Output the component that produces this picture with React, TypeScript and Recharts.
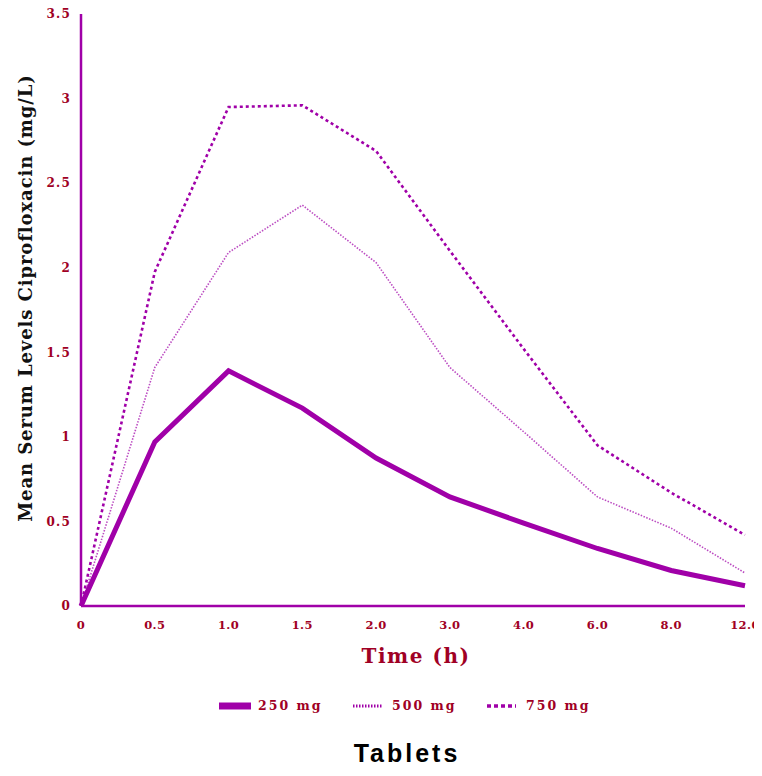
import React from 'react';
import { LineChart, Line, XAxis, YAxis, Legend } from 'recharts';

const timeLabels = ['0', '0.5', '1.0', '1.5', '2.0', '3.0', '4.0', '6.0', '8.0', '12.0'];
const mg250 = [0, 0.97, 1.39, 1.17, 0.875, 0.645, 0.49, 0.34, 0.21, 0.12];
const mg500 = [0, 1.41, 2.09, 2.37, 2.03, 1.41, 1.03, 0.645, 0.46, 0.195];
const mg750 = [0, 1.975, 2.95, 2.96, 2.69, 2.1, 1.52, 0.95, 0.67, 0.42];
const yTicks = [0, 0.5, 1, 1.5, 2, 2.5, 3, 3.5];
const yTickLabels = ['0', '0.5', '1', '1.5', '2', '2.5', '3', '3.5'];
const seriesNames = ['250 mg', '500 mg', '750 mg'];

const data = timeLabels.map((t, i) => ({
  time: t,
  a: mg250[i],
  b: mg500[i],
  c: mg750[i],
}));

const PURPLE = '#A000A8';
const RED = '#A00024';
const SERIF = '"DejaVu Serif", "Liberation Serif", serif';

const yTickStyle = {
  fill: RED,
  fontFamily: SERIF,
  fontWeight: 700,
  fontSize: 12,
  letterSpacing: 1.2,
};

const xTickStyle = {
  fill: RED,
  fontFamily: SERIF,
  fontWeight: 700,
  fontSize: 11.5,
  letterSpacing: 0.4,
};

const YLabel = (props: any) => {
  const vb = props.viewBox || { x: 0, y: 0, height: 0 };
  const cx = vb.x - 6;
  const cy = 290;
  return (
    <text
      x={cx}
      y={cy}
      transform={`rotate(-90, ${cx}, ${cy})`}
      textAnchor="middle"
      dominantBaseline="central"
      fill="#111"
      fontFamily={SERIF}
      fontWeight={700}
      fontSize={18}
      letterSpacing={0.9}
    >
      Mean Serum Levels Ciprofloxacin (mg/L)
    </text>
  );
};

const XLabel = (props: any) => {
  const vb = props.viewBox || { x: 0, y: 0, width: 0 };
  return (
    <text
      x={vb.x + vb.width / 2 + 3}
      y={655}
      textAnchor="middle"
      fill={RED}
      fontFamily={SERIF}
      fontWeight={700}
      fontSize={20}
      letterSpacing={1.5}
    >
      Time (h)
    </text>
  );
};

const sample = (i: number) => {
  if (i === 0) {
    return (
      <svg width={32} height={10}>
        <line x1={0} y1={5} x2={32} y2={5} stroke={PURPLE} strokeWidth={7} />
      </svg>
    );
  }
  if (i === 1) {
    return (
      <svg width={32} height={10}>
        <line x1={0} y1={5} x2={30} y2={5} stroke={PURPLE} strokeWidth={3} strokeDasharray="1.5 1.5" />
      </svg>
    );
  }
  return (
    <svg width={32} height={10}>
      <line x1={0} y1={5} x2={29} y2={5} stroke={PURPLE} strokeWidth={3.5} strokeDasharray="4 3" />
    </svg>
  );
};

const renderLegend = () => (
  <div style={{ display: 'flex', alignItems: 'center' }}>
    {seriesNames.map((n, i) => (
      <div key={n} style={{ width: 134, display: 'flex', alignItems: 'center' }}>
        {sample(i)}
        <span
          style={{
            marginLeft: 7,
            color: RED,
            fontFamily: SERIF,
            fontWeight: 700,
            fontSize: 12.5,
            letterSpacing: 2,
            whiteSpace: 'nowrap',
          }}
        >
          {n}
        </span>
      </div>
    ))}
  </div>
);

export default function App() {
  return (
    <div style={{ position: 'relative', width: 746, height: 760 }}>
      <style>{`html, body { overflow: hidden; } .recharts-wrapper, .recharts-surface { overflow: visible !important; }`}</style>
      <LineChart
        width={746}
        height={760}
        data={data}
        margin={{ top: 6, right: 9, left: 23, bottom: 132 }}
      >
        <XAxis
          dataKey="time"
          interval={0}
          tickLine={false}
          tickSize={0}
          tickMargin={15}
          height={30}
          axisLine={{ stroke: PURPLE, strokeWidth: 2.5 }}
          tick={xTickStyle}
          label={<XLabel />}
        />
        <YAxis
          domain={[0, 3.5]}
          ticks={yTicks}
          interval={0}
          width={50}
          tickLine={false}
          tickSize={0}
          tickMargin={10}
          axisLine={{ stroke: PURPLE, strokeWidth: 2.5 }}
          tick={yTickStyle}
          tickFormatter={(v: number) => yTickLabels[yTicks.indexOf(v)] ?? String(v)}
          label={<YLabel />}
        />
        <Legend
          layout="horizontal"
          verticalAlign="middle"
          align="center"
          content={renderLegend}
          wrapperStyle={{ position: 'absolute', left: 211, top: 690, width: 420 }}
        />
        <Line
          dataKey="a"
          name={seriesNames[0]}
          stroke={PURPLE}
          strokeWidth={5}
          dot={false}
          activeDot={false}
          isAnimationActive={false}
        />
        <Line
          dataKey="b"
          name={seriesNames[1]}
          stroke={PURPLE}
          strokeOpacity={0.7}
          strokeWidth={1.6}
          strokeDasharray="1.5 1.5"
          dot={false}
          activeDot={false}
          isAnimationActive={false}
        />
        <Line
          dataKey="c"
          name={seriesNames[2]}
          stroke={PURPLE}
          strokeWidth={2.6}
          strokeDasharray="3 3"
          dot={false}
          activeDot={false}
          isAnimationActive={false}
        />
      </LineChart>
      <div
        style={{
          position: 'absolute',
          left: 299,
          top: 733,
          width: 200,
          textAlign: 'center',
          fontFamily: '"Liberation Sans", Arial, sans-serif',
          fontWeight: 700,
          fontSize: 25,
          lineHeight: '25px',
          letterSpacing: 3,
          color: '#000',
        }}
      >
        Tablets
      </div>
    </div>
  );
}
